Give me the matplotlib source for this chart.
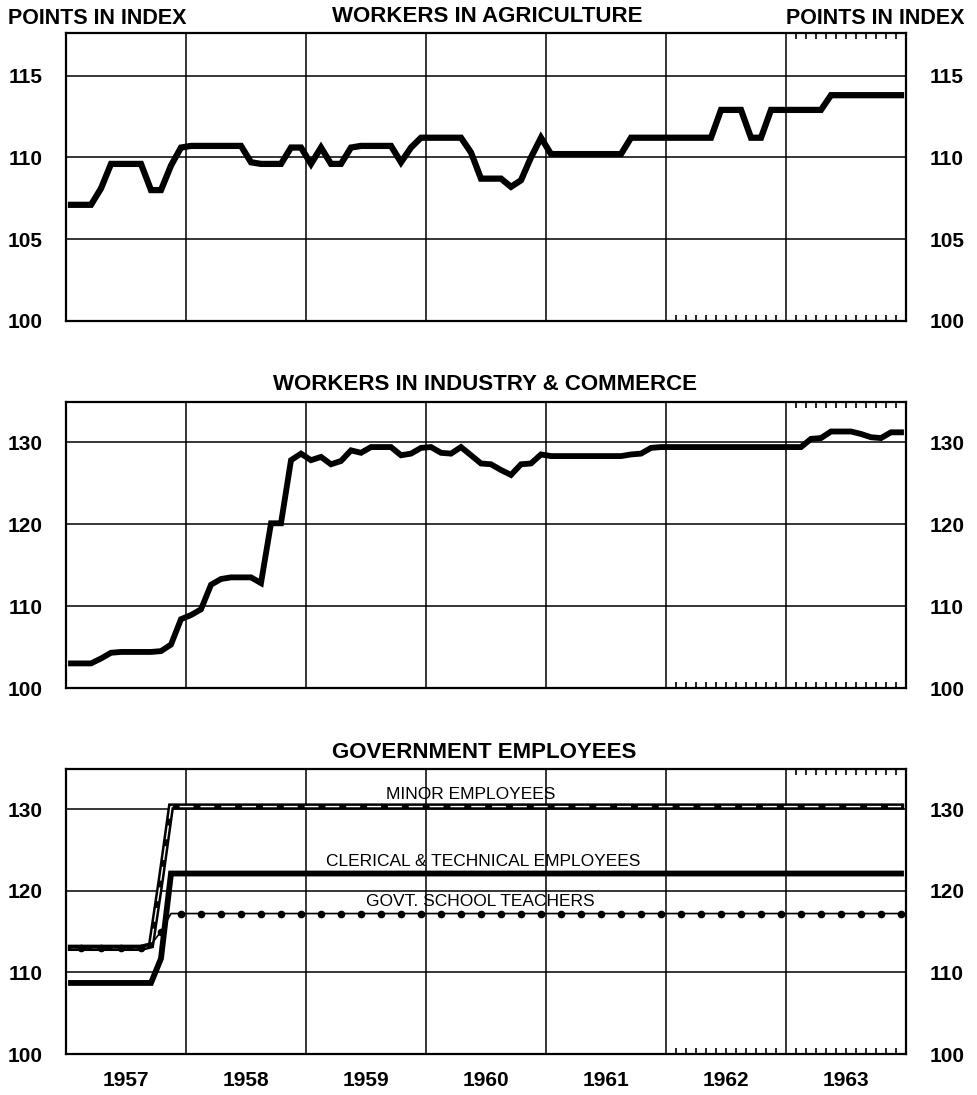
import numpy as np
import matplotlib
matplotlib.use("Agg")
import matplotlib.pyplot as plt
import matplotlib.transforms as mtransforms

plt.rcParams['font.family'] = ['Liberation Sans', 'DejaVu Sans']

# monthly index values, Jan 1957 .. Dec 1963
agriculture = [
    107.1, 107.1, 107.1, 108.1, 109.6, 109.6, 109.6, 109.6, 108.0, 108.0, 109.5, 110.6,
    110.7, 110.7, 110.7, 110.7, 110.7, 110.7, 109.7, 109.6, 109.6, 109.6, 110.6, 110.6,
    109.6, 110.6, 109.6, 109.6, 110.6, 110.7, 110.7, 110.7, 110.7, 109.7, 110.6, 111.2,
    111.2, 111.2, 111.2, 111.2, 110.3, 108.7, 108.7, 108.7, 108.2, 108.6, 110.0, 111.2,
    110.2, 110.2, 110.2, 110.2, 110.2, 110.2, 110.2, 110.2, 111.2, 111.2, 111.2, 111.2,
    111.2, 111.2, 111.2, 111.2, 111.2, 112.9, 112.9, 112.9, 111.2, 111.2, 112.9, 112.9,
    112.9, 112.9, 112.9, 112.9, 113.8, 113.8, 113.8, 113.8, 113.8, 113.8, 113.8, 113.8,
]
industry = [
    103.0, 103.0, 103.0, 103.6, 104.3, 104.4, 104.4, 104.4, 104.4, 104.5, 105.3, 108.4,
    108.9, 109.6, 112.6, 113.3, 113.5, 113.5, 113.5, 112.8, 120.1, 120.1, 127.8, 128.6,
    127.8, 128.2, 127.3, 127.7, 129.0, 128.7, 129.4, 129.4, 129.4, 128.4, 128.6, 129.3,
    129.4, 128.7, 128.6, 129.4, 128.4, 127.4, 127.3, 126.6, 126.0, 127.3, 127.4, 128.5,
    128.3, 128.3, 128.3, 128.3, 128.3, 128.3, 128.3, 128.3, 128.5, 128.6, 129.3, 129.4,
    129.4, 129.4, 129.4, 129.4, 129.4, 129.4, 129.4, 129.4, 129.4, 129.4, 129.4, 129.4,
    129.4, 129.4, 130.4, 130.5, 131.3, 131.3, 131.3, 131.0, 130.6, 130.5, 131.2, 131.2,
]
minor_emp = [113.0] * 8 + [113.3, 121.5] + [130.3] * 74
clerical = [108.7] * 9 + [111.7] + [122.1] * 74
teachers = [113.0] * 8 + [113.4, 115.0] + [117.2] * 74

years = [1957, 1958, 1959, 1960, 1961, 1962, 1963]
months = 1957 + (np.arange(84) + 0.5) / 12

W, H = 978, 1095
fig = plt.figure(figsize=(W / 100, H / 100), dpi=100)


def fx(px):
    return px / W


def fy(py):
    return 1 - py / H


def make_panel(top, bottom, ylim, yticks):
    ax = fig.add_axes([fx(66), fy(bottom), fx(906) - fx(66), fy(top) - fy(bottom)])
    ax.set_xlim(1957, 1964)
    ax.set_ylim(*ylim)
    ax.set_yticks(yticks)
    ax.set_xticks(range(1958, 1964))
    ax.set_xticklabels([])
    for y in yticks[1:]:
        ax.axhline(y, color='black', lw=1.1, zorder=1)
    for x in range(1958, 1964):
        ax.axvline(x, color='black', lw=1.1, zorder=1)
    for s in ax.spines.values():
        s.set_linewidth(1.6)
    ax.tick_params(axis='x', length=0)
    ax.tick_params(axis='y', length=0, labelright=True, pad=17,
                   labelsize=15)
    for lab in ax.get_yticklabels():
        lab.set_fontweight('bold')
    # monthly tick marks along the right part of the frame
    tr = mtransforms.blended_transform_factory(ax.transData, ax.transAxes)
    bot = [1962 + k / 12 for k in range(1, 24) if k != 12]
    topm = [1963 + k / 12 for k in range(1, 12)]
    ax.vlines(bot, 0, 0.022, color='black', lw=1.2, transform=tr)
    ax.vlines(topm, 1 - 0.022, 1, color='black', lw=1.2, transform=tr)
    return ax


ax1 = make_panel(33, 321, (100, 117.6), [100, 105, 110, 115])
ax1.plot(months, agriculture, color='black', lw=4.5, solid_joinstyle='miter', zorder=3)

ax2 = make_panel(402, 688, (100, 134.9), [100, 110, 120, 130])
ax2.plot(months, industry, color='black', lw=4.2, solid_joinstyle='miter', zorder=3)

ax3 = make_panel(769, 1054, (100, 134.9), [100, 110, 120, 130])
ax3.plot(months, minor_emp, color='black', lw=4.6, solid_joinstyle='miter', zorder=3)
ax3.plot(months, minor_emp, color='white', lw=1.0, dashes=(10, 5), zorder=4)
ax3.plot(months, clerical, color='black', lw=4.2, solid_joinstyle='miter', zorder=3)
ax3.plot(months, teachers, color='black', lw=1.2, marker='o', markersize=4.5,
         markevery=(1, 2), zorder=5)
ax3.text(1960.37, minor_emp[-1] + 1.5, 'MINOR EMPLOYEES', ha='center', va='center', fontsize=12.5)
ax3.text(1960.48, clerical[-1] + 1.5, 'CLERICAL & TECHNICAL EMPLOYEES', ha='center', va='center', fontsize=12.5)
ax3.text(1960.45, teachers[-1] + 1.5, 'GOVT. SCHOOL TEACHERS', ha='center', va='center', fontsize=12.5)

ax3.set_xticks([y + 0.5 for y in years], minor=True)
ax3.set_xticklabels([str(y) for y in years], minor=True)
ax3.tick_params(axis='x', which='minor', length=0, pad=12, labelsize=15)
for lab in ax3.get_xticklabels(minor=True):
    lab.set_fontweight('bold')

# headings
fig.text(fx(8), fy(18), 'POINTS IN INDEX', ha='left', va='center', fontsize=15.5, fontweight='bold')
fig.text(fx(965), fy(18), 'POINTS IN INDEX', ha='right', va='center', fontsize=15.5, fontweight='bold')
fig.text(fx(487), fy(17), 'WORKERS IN AGRICULTURE', ha='center', va='center', fontsize=16, fontweight='bold')
fig.text(fx(485), fy(385), 'WORKERS IN INDUSTRY & COMMERCE', ha='center', va='center', fontsize=16, fontweight='bold')
fig.text(fx(484), fy(753), 'GOVERNMENT EMPLOYEES', ha='center', va='center', fontsize=16, fontweight='bold')

fig.savefig('out.png', dpi=100, facecolor='white')
